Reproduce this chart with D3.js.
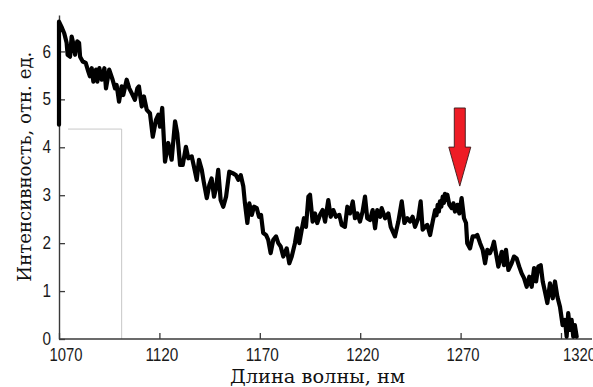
<!DOCTYPE html>
<html>
<head>
<meta charset="utf-8">
<script src="https://cdn.jsdelivr.net/npm/d3@7"></script>
<style>
  html, body { margin: 0; padding: 0; background: #fff; }
  svg { display: block; }
</style>
</head>
<body>
<div id="chart"></div>
<script>
// spectrum
const wavelength = [
  1070.0, 1070.0, 1071.5, 1072.6, 1073.8, 1074.3, 1075.5, 1076.3, 1077.1, 1078.0,
  1079.1, 1080.0, 1080.5, 1081.8, 1083.3, 1084.6, 1085.4, 1086.3, 1087.1, 1088.4,
  1089.1, 1090.1, 1091.3, 1092.6, 1093.4, 1095.0, 1096.7, 1097.9, 1098.7, 1099.9,
  1101.2, 1102.0, 1103.7, 1105.0, 1106.2, 1107.8, 1109.0, 1109.8, 1111.2, 1112.3,
  1113.7, 1115.3, 1116.7, 1118.3, 1119.5, 1120.3, 1121.4, 1122.8, 1124.4, 1126.1,
  1127.8, 1128.9, 1130.3, 1131.6, 1133.2, 1134.4, 1136.1, 1137.2, 1138.6, 1139.7,
  1141.1, 1142.2, 1143.6, 1144.9, 1146.0, 1147.2, 1148.2, 1149.3, 1150.5, 1151.8,
  1153.2, 1154.8, 1156.5, 1158.1, 1159.3, 1160.5, 1161.8, 1162.6, 1163.8, 1164.8,
  1166.0, 1167.1, 1168.5, 1169.6, 1170.6, 1171.7, 1173.1, 1174.2, 1175.4, 1176.7,
  1178.1, 1179.2, 1180.4, 1181.7, 1183.4, 1184.7, 1185.9, 1187.5, 1188.7, 1189.7,
  1190.9, 1192.0, 1193.0, 1194.2, 1195.0, 1196.3, 1197.5, 1198.6, 1200.0, 1201.3,
  1202.5, 1204.1, 1205.3, 1206.6, 1207.9, 1209.6, 1210.8, 1212.4, 1213.6, 1214.9,
  1216.3, 1217.4, 1218.6, 1219.9, 1221.2, 1222.4, 1223.5, 1224.9, 1226.2, 1227.4,
  1228.5, 1229.9, 1230.7, 1232.4, 1234.0, 1235.2, 1237.3, 1239.0, 1240.7, 1242.0,
  1243.5, 1244.8, 1246.1, 1247.3, 1248.9, 1250.1, 1251.1, 1252.3, 1253.4, 1254.8,
  1256.1, 1257.3, 1258.0, 1258.6, 1259.2, 1259.7, 1260.4, 1261.1, 1261.7, 1262.2,
  1262.8, 1263.4, 1264.4, 1265.6, 1266.4,
  1267.2, 1268.4, 1269.4, 1270.5, 1271.7, 1272.7, 1273.3, 1274.7, 1276.0, 1277.2,
  1278.3, 1279.7, 1281.0, 1282.2, 1283.3, 1284.6, 1286.0, 1286.6, 1287.6, 1288.8,
  1290.5, 1291.6, 1292.6, 1293.8, 1295.4, 1296.6, 1297.9, 1299.2, 1300.4, 1301.6,
  1302.9, 1304.2, 1305.4, 1306.6, 1307.6, 1308.7, 1309.9, 1310.9, 1312.0, 1313.2,
  1314.5, 1315.9, 1317.0, 1318.2, 1319.5, 1320.8, 1322.0, 1322.8, 1323.6, 1324.5,
  1325.3, 1326.1, 1326.9, 1327.8
];
const intensity = [
  4.47, 6.62, 6.49, 6.38, 6.18, 5.93, 5.89, 6.31, 6.17, 5.93,
  6.21, 6.18, 5.89, 5.79, 5.76, 5.58, 5.48, 5.65, 5.37, 5.62,
  5.37, 5.65, 5.41, 5.65, 5.23, 5.62, 5.41, 5.23, 5.30, 4.95,
  5.27, 5.09, 5.41, 5.23, 5.13, 4.99, 5.23, 5.27, 4.85, 5.06,
  4.78, 4.71, 4.22, 4.57, 4.68, 4.43, 4.82, 3.70, 4.09, 3.74,
  4.54, 4.29, 3.63, 3.63, 4.01, 3.77, 3.81, 3.60, 3.32, 3.74,
  3.53, 3.25, 2.94, 3.22, 3.35, 2.97, 3.15, 3.53, 2.90, 2.76,
  2.97, 3.49, 3.46, 3.42, 3.32, 3.42, 3.18, 2.83, 2.42, 2.83,
  2.59, 2.76, 2.73, 2.55, 2.59, 2.21, 2.17, 2.07, 1.79, 2.07,
  2.14, 2.00, 1.93, 1.72, 1.89, 1.58, 1.72, 2.00, 2.31, 2.00,
  2.28, 2.52, 2.34, 2.97, 3.01, 2.45, 2.62, 2.42, 2.59, 2.69,
  2.45, 2.90, 2.55, 2.69, 2.55, 2.59, 2.38, 2.34, 2.76, 2.62,
  2.87, 2.52, 2.62, 2.45, 2.66, 2.97, 2.52, 2.48, 2.69, 2.31,
  2.69, 2.55, 2.73, 2.52, 2.62, 2.34, 2.14, 2.45, 2.87, 2.42,
  2.52, 2.45, 2.55, 2.34, 2.52, 2.87, 2.28, 2.34, 2.38, 2.17,
  2.45, 2.69, 2.58, 2.80, 2.66, 2.87, 2.76, 2.97, 2.84, 3.03,
  2.90, 3.01, 2.80, 2.73, 2.83,
  2.66, 2.80, 2.62, 2.94, 2.52, 2.42, 2.00, 1.89, 2.14, 2.14,
  2.17, 2.00, 1.86, 1.58, 1.86, 1.79, 1.93, 2.03, 1.79, 1.51,
  1.82, 1.54, 1.86, 1.44, 1.58, 1.72, 1.68, 1.51, 1.37, 1.27,
  1.09, 1.30, 1.09, 1.48, 1.20, 1.51, 1.54, 1.20, 0.99, 0.75,
  1.16, 0.85, 1.20, 0.88, 0.67, 0.29, 0.40, 0.05, 0.54, 0.19,
  0.40, 0.05, 0.29, 0.05
];
const xTicks = [1070, 1120, 1170, 1220, 1270, 1320];
const yTicks = [0, 1, 2, 3, 4, 5, 6];
// red arrow marking the line: tip and top of the shaft
const arrowAt = [1269.6, 3.19];
const arrowTop = 4.82;
// faint grey frame left over in the picture
const frameX = [1074.5, 1101.2];
const frameTop = 4.38;

const width = 593, height = 387;
const x0 = 59, x1 = 561, yBottom = 339, yTop = 15;

const svg = d3.select('#chart').append('svg')
  .attr('width', width)
  .attr('height', height);

const x = d3.scaleLinear().domain([1070, 1320]).range([x0, x1]);
const y = d3.scaleLinear().domain([0, 6.76]).range([yBottom, yTop]);

const axisColor = '#3a3a3a';
const tickFont = '"Liberation Sans", Arial, sans-serif';

// leftover frame
svg.append('path')
  .attr('d', `M${x(frameX[0])},${y(frameTop)}H${x(frameX[1])}V${y(0)}`)
  .attr('fill', 'none')
  .attr('stroke', '#c8c8c8')
  .attr('stroke-width', 1);

// x axis
const xAxis = svg.append('g')
  .attr('transform', `translate(0, ${yBottom})`)
  .call(d3.axisBottom(x).tickValues(xTicks).tickFormat(d3.format('d'))
    .tickSizeInner(-6).tickSizeOuter(0).tickPadding(10));
xAxis.select('.domain').remove();
xAxis.append('line')
  .attr('x1', x0).attr('x2', width - 1)
  .attr('stroke', axisColor).attr('stroke-width', 1.4);
xAxis.selectAll('.tick line').attr('stroke', axisColor).attr('stroke-width', 1.3);
// labels sit a little right of their ticks in the original
const labelShift = { 1070: 6.5, 1320: 18 };
xAxis.selectAll('.tick text')
  .attr('dx', d => labelShift[d] !== undefined ? labelShift[d] : 2)
  .attr('textLength', 33)
  .attr('lengthAdjust', 'spacingAndGlyphs')
  .attr('fill', '#1a1a1a')
  .style('font-family', tickFont)
  .style('font-size', '17.5px');

// y axis
const yAxis = svg.append('g')
  .attr('transform', `translate(${x0}, 0)`)
  .call(d3.axisLeft(y).tickValues(yTicks).tickFormat(d3.format('d'))
    .tickSizeInner(-6).tickSizeOuter(0).tickPadding(8));
yAxis.select('.domain').attr('stroke', axisColor).attr('stroke-width', 1.4);
yAxis.selectAll('.tick line').attr('stroke', axisColor).attr('stroke-width', 1.3);
yAxis.selectAll('.tick text')
  .attr('textLength', 8.5)
  .attr('lengthAdjust', 'spacingAndGlyphs')
  .attr('fill', '#1a1a1a')
  .style('font-family', tickFont)
  .style('font-size', '17.5px');

// spectrum line
const pts = wavelength.map((w, i) => [w, intensity[i]]);
const line = d3.line().x(d => x(d[0])).y(d => y(d[1]));
svg.append('path')
  .datum(pts)
  .attr('d', line)
  .attr('fill', 'none')
  .attr('stroke', '#000')
  .attr('stroke-width', 4.2)
  .attr('stroke-linejoin', 'round')
  .attr('stroke-linecap', 'round');

// arrow
const ax = x(arrowAt[0]), tipY = y(arrowAt[1]), topY = y(arrowTop);
const headLen = 39, shaftW = 5.5, headW = 11;
svg.append('path')
  .attr('d', `M${ax - shaftW},${topY}H${ax + shaftW}V${tipY - headLen}H${ax + headW}` +
    `L${ax},${tipY}L${ax - headW},${tipY - headLen}H${ax - shaftW}Z`)
  .attr('fill', '#ee1c25')
  .attr('stroke', '#3a1a1a')
  .attr('stroke-width', 0.9);

// axis titles
const titleFont = '"DejaVu Serif", "Liberation Serif", serif';
svg.append('text')
  .attr('x', 317.5)
  .attr('y', 383)
  .attr('text-anchor', 'middle')
  .attr('textLength', 175)
  .attr('lengthAdjust', 'spacingAndGlyphs')
  .attr('fill', '#111')
  .style('font-family', titleFont)
  .style('font-size', '18px')
  .text('Длина волны, нм');

svg.append('text')
  .attr('transform', 'translate(31, 166.7) rotate(-90)')
  .attr('text-anchor', 'middle')
  .attr('textLength', 230)
  .attr('lengthAdjust', 'spacingAndGlyphs')
  .attr('fill', '#111')
  .style('font-family', titleFont)
  .style('font-size', '18px')
  .text('Интенсивность, отн. ед.');
</script>
</body>
</html>
